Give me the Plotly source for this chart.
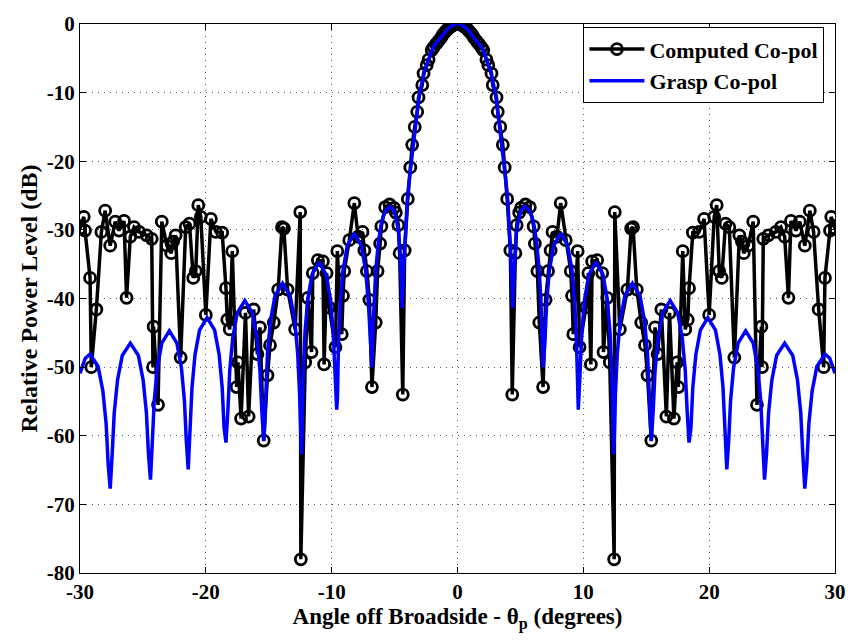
import plotly.graph_objects as go

# ---------------- Computed Co-pol (black, circles) ----------------
theta_comp_left = [-30.0, -29.7, -29.6, -29.2, -29.1, -28.7, -28.3, -28.0, -27.6, -27.2, -26.9, -26.5, -26.3, -26.0,
                   -25.7, -25.3, -24.7, -24.3, -24.2, -24.15, -23.8, -23.5, -23.1, -22.75, -22.6, -22.4, -22.0,
                   -21.6, -21.3, -21.0, -20.8, -20.6, -20.4, -20.0, -19.6, -19.2, -18.7, -18.4, -18.3, -18.1,
                   -17.9, -17.55, -17.45, -17.2, -16.85, -16.6, -16.2, -15.9, -15.7, -15.4, -15.1, -14.9, -14.6,
                   -14.25, -13.95, -13.8, -13.5, -12.9, -12.5, -12.45, -12.1, -11.9, -11.6, -11.5, -11.1, -10.7,
                   -10.6, -10.4, -10.2, -9.7, -9.55, -9.2, -9.1, -9.0, -8.6, -8.2, -7.9, -7.55, -7.4, -7.2, -7.0,
                   -6.8, -6.5, -6.35, -6.15, -6.05, -5.75, -5.4, -5.05, -4.9, -4.7, -4.6, -4.35, -4.2, -3.95,
                   -3.75, -3.6, -3.4, -3.2, -3.1, -2.8, -2.7, -2.45, -2.3, -2.05, -1.9, -1.7, -1.5, -1.3, -1.15,
                   -1.0, -0.85, -0.7, -0.55, -0.4, -0.25, -0.1]
level_comp_left = [-29.8, -28.1, -30.1, -37.0, -50.0, -41.6, -30.3, -27.2, -32.3, -28.8, -30.1, -28.7, -39.9, -31.0,
                   -29.6, -30.3, -30.8, -31.3, -50.0, -44.1, -55.5, -28.8, -32.3, -33.4, -31.7, -30.8, -48.6,
                   -29.6, -29.1, -37.0, -36.0, -26.4, -28.1, -42.4, -28.4, -30.3, -30.4, -38.5, -43.1, -44.5,
                   -33.1, -52.9, -49.3, -57.5, -42.1, -57.2, -41.6, -48.1, -44.2, -60.7, -51.2, -46.8, -43.5,
                   -38.7, -29.6, -29.8, -38.7, -44.5, -27.4, -78.0, -49.3, -39.9, -47.8, -36.3, -34.4, -34.6,
                   -49.6, -36.3, -41.3, -47.1, -33.1, -45.2, -39.6, -36.0, -31.5, -26.1, -31.0, -30.3, -33.0, -36.0,
                   -40.2, -52.9, -43.5, -36.0, -32.0, -29.5, -26.7, -26.3, -26.8, -27.5, -29.3, -33.4, -54.0, -33.0,
                   -25.5, -20.9, -17.6, -15.0, -12.8, -10.7, -8.9, -7.2, -6.0, -5.2, -3.8, -3.4, -2.9, -2.45, -2.0,
                   -1.5, -1.2, -0.9, -0.6, -0.4, -0.2, -0.08, -0.02]
theta_comp_right = [0.0, 0.1, 0.25, 0.4, 0.55, 0.7, 0.85, 1.0, 1.15, 1.3, 1.5, 1.7, 1.9, 2.05, 2.3, 2.45, 2.7, 2.8,
                    3.1, 3.2, 3.4,
                    3.6, 3.75, 3.95, 4.2, 4.35, 4.6, 4.7, 4.9, 5.05, 5.4, 5.75, 6.05, 6.15, 6.35, 6.5, 6.8, 7.0,
                    7.2, 7.4, 7.55, 7.9, 8.2, 8.6, 9.0, 9.1, 9.2, 9.55, 9.7, 10.2, 10.4, 10.6, 10.7, 11.1, 11.5,
                    11.6, 11.9, 12.1, 12.45, 12.5, 12.9, 13.5, 13.8, 13.95, 14.25, 14.6, 14.9, 15.1, 15.4, 15.7,
                    15.9, 16.2, 16.6, 16.85, 17.2, 17.45, 17.55, 17.9, 18.1, 18.3, 18.4, 18.7, 19.2, 19.6, 20.0,
                    20.4, 20.6, 20.8, 21.0, 21.3, 21.6, 22.0, 22.4, 22.6, 22.75, 23.1, 23.5, 23.8, 24.15, 24.2,
                    24.3, 24.7, 25.3, 25.7, 26.0, 26.3, 26.5, 26.9, 27.2, 27.6, 28.0, 28.3, 28.7, 29.1, 29.2, 29.6,
                    29.7, 30.0]
level_comp_right = [0.0, -0.02, -0.08, -0.2, -0.4, -0.6, -0.9, -1.2, -1.5, -2.0, -2.45, -2.9, -3.4, -3.8, -5.2,
                    -6.0, -7.2, -8.9,
                    -10.7, -12.8, -15.0, -17.6, -20.9, -25.5, -33.0, -54.0, -33.4, -29.3, -27.5, -26.8, -26.3,
                    -26.7, -29.5, -32.0, -36.0, -43.5, -52.9, -40.2, -36.0, -33.0, -30.3, -31.0, -26.1, -31.5,
                    -36.0, -39.6, -45.2, -33.1, -47.1, -41.3, -36.3, -49.6, -34.6, -34.4, -36.3, -47.8, -39.9,
                    -49.3, -78.0, -27.4, -44.5, -38.7, -29.8, -29.6, -38.7, -43.5, -46.8, -51.2, -60.7, -44.2,
                    -48.1, -41.6, -57.2, -42.1, -57.5, -49.3, -52.9, -33.1, -44.5, -43.1, -38.5, -30.4, -30.3,
                    -28.4, -42.4, -28.1, -26.4, -36.0, -37.0, -29.1, -29.6, -48.6, -30.8, -31.7, -33.4, -32.3,
                    -28.8, -55.5, -44.1, -50.0, -31.3, -30.8, -30.3, -29.6, -31.0, -39.9, -28.7, -30.1, -28.8,
                    -32.3, -27.2, -30.3, -41.6, -50.0, -37.0, -30.1, -28.1, -29.8]

# ---------------- Grasp Co-pol (blue line) ----------------
theta_grasp_left = [-30.0, -29.58, -29.2, -28.56, -28.18, -27.92, -27.76, -27.6, -27.44, -27.28, -27.02, -26.64,
                    -26.0, -25.36, -24.98, -24.72, -24.56, -24.4, -24.25, -24.1, -23.86, -23.5, -22.9, -22.3,
                    -21.94, -21.7, -21.55, -21.4, -21.25, -21.1, -20.86, -20.5, -19.9, -19.3, -18.94, -18.7,
                    -18.55, -18.4, -18.25, -18.1, -17.86, -17.5, -16.9, -16.3, -15.94, -15.7, -15.55, -15.4,
                    -15.34, -15.25, -15.1, -14.86, -14.5, -13.9, -13.3, -12.94, -12.7, -12.55, -12.46, -12.4,
                    -12.34, -12.26, -12.12, -11.90, -11.56, -11.0, -10.44, -10.10, -9.88, -9.74, -9.6, -9.54,
                    -9.46, -9.32, -9.10, -8.76, -8.2, -7.64, -7.30, -7.08, -6.94, -6.8, -6.72, -6.62, -6.5, -6.3,
                    -6.1, -5.9, -5.65, -5.35, -5.05, -4.85, -4.68, -4.55, -4.47, -4.4, -4.3, -4.2, -4.1, -4.0,
                    -3.85, -3.7, -3.55, -3.35, -3.2, -3.0, -2.8, -2.6, -2.4, -2.2, -2.0, -1.8, -1.5, -1.2, -0.9,
                    -0.6, -0.3]
level_grasp_left = [-50.9, -48.7, -48.1, -49.9, -53.5, -58.3, -64.2, -67.7, -62.6, -56.7, -51.9, -48.3, -46.5,
                    -48.3, -51.9, -56.7, -62.6, -66.4, -60.8, -54.9, -50.1, -46.5, -44.7, -46.5, -50.1, -54.9,
                    -60.8, -64.9, -58.9, -53.0, -48.2, -44.6, -42.8, -44.6, -48.2, -53.0, -58.9, -61.0, -56.4,
                    -50.5, -45.7, -42.1, -40.3, -42.1, -45.7, -50.5, -56.4, -60.8, -59.0, -53.9, -48.0, -43.2,
                    -39.6, -37.8, -39.6, -43.2, -48.0, -53.9, -60.5, -62.7, -58.7, -50.8, -44.9, -40.1, -36.5,
                    -34.7, -36.5, -40.1, -44.9, -50.8, -56.2, -54.5, -46.6, -40.7, -35.9, -32.3, -30.5, -32.3,
                    -35.9, -40.7, -46.6, -50.0, -44.5, -40.0, -36.0, -32.0, -29.5, -28.0, -27.0, -26.6, -27.2,
                    -28.5, -30.5, -33.5, -37.0, -41.4, -36.5, -32.5, -28.5, -25.8, -23.0, -20.5, -17.6, -15.0,
                    -12.8, -10.0, -8.3, -6.8, -5.7, -4.6, -3.65, -3.0, -2.4, -1.7, -1.0, -0.45, -0.1]
theta_grasp_right = [0.0, 0.3, 0.6, 0.9, 1.2, 1.5, 1.8, 2.0, 2.2, 2.4, 2.6, 2.8, 3.0, 3.2, 3.35, 3.55, 3.7, 3.85,
                     4.0, 4.1, 4.2, 4.3, 4.4, 4.47, 4.55, 4.68, 4.85, 5.05, 5.35, 5.65, 5.9, 6.1, 6.3, 6.5, 6.62,
                     6.72, 6.8, 6.94, 7.08, 7.30, 7.64, 8.2, 8.76, 9.10, 9.32, 9.46, 9.54, 9.6, 9.74, 9.88, 10.10,
                     10.44, 11.0, 11.56, 11.90, 12.12, 12.26, 12.34, 12.4, 12.46, 12.55, 12.7, 12.94, 13.3, 13.9,
                     14.5, 14.86, 15.1, 15.25, 15.34, 15.4, 15.55, 15.7, 15.94, 16.3, 16.9, 17.5, 17.86, 18.1,
                     18.25, 18.4, 18.55, 18.7, 18.94, 19.3, 19.9, 20.5, 20.86, 21.1, 21.25, 21.4, 21.55, 21.7,
                     21.94, 22.3, 22.9, 23.5, 23.86, 24.1, 24.25, 24.4, 24.56, 24.72, 24.98, 25.36, 26.0, 26.64,
                     27.02, 27.28, 27.44, 27.6, 27.76, 27.92, 28.18, 28.56, 29.2, 29.58, 30.0]
level_grasp_right = [0.0, -0.1, -0.45, -1.0, -1.7, -2.4, -3.0, -3.65, -4.6, -5.7, -6.8, -8.3, -10.0, -12.8, -15.0,
                     -17.6, -20.5, -23.0, -25.8, -28.5, -32.5, -36.5, -41.4, -37.0, -33.5, -30.5, -28.5, -27.2,
                     -26.6, -27.0, -28.0, -29.5, -32.0, -36.0, -40.0, -44.5, -50.0, -46.6, -40.7, -35.9, -32.3,
                     -30.5, -32.3, -35.9, -40.7, -46.6, -54.5, -56.2, -50.8, -44.9, -40.1, -36.5, -34.7, -36.5,
                     -40.1, -44.9, -50.8, -58.7, -62.7, -60.5, -53.9, -48.0, -43.2, -39.6, -37.8, -39.6, -43.2,
                     -48.0, -53.9, -59.0, -60.8, -56.4, -50.5, -45.7, -42.1, -40.3, -42.1, -45.7, -50.5, -56.4,
                     -61.0, -58.9, -53.0, -48.2, -44.6, -42.8, -44.6, -48.2, -53.0, -58.9, -64.9, -60.8, -54.9,
                     -50.1, -46.5, -44.7, -46.5, -50.1, -54.9, -60.8, -66.4, -62.6, -56.7, -51.9, -48.3, -46.5,
                     -48.3, -51.9, -56.7, -62.6, -67.7, -64.2, -58.3, -53.5, -49.9, -48.1, -48.7, -50.9]

x_ticks = [-30, -20, -10, 0, 10, 20, 30]
y_ticks = [-80, -70, -60, -50, -40, -30, -20, -10, 0]

theta_comp = theta_comp_left + theta_comp_right
level_comp = level_comp_left + level_comp_right
theta_grasp = theta_grasp_left + theta_grasp_right
level_grasp = level_grasp_left + level_grasp_right

FONT = "Liberation Serif"
TICK_FONT = dict(family=FONT, size=21, color="black", weight="bold")

fig = go.Figure()
fig.add_trace(go.Scatter(
    x=theta_comp, y=level_comp, mode="lines+markers", name="Computed Co-pol",
    line=dict(color="black", width=3.5),
    marker=dict(symbol="circle-open", size=11, color="black", line=dict(width=2.8, color="black")),
))
fig.add_trace(go.Scatter(
    x=theta_grasp, y=level_grasp, mode="lines", name="Grasp Co-pol",
    line=dict(color="rgb(0,0,255)", width=3.5),
))

axis_common = dict(
    showline=True, linecolor="black", linewidth=1, mirror="ticks",
    ticks="inside", ticklen=6, tickcolor="black",
    showgrid=True, gridcolor="rgb(90,90,90)", griddash="1px,5px", gridwidth=1,
    zeroline=False,
    tickfont=TICK_FONT,
)

fig.update_xaxes(range=[-30, 30], tickvals=x_ticks, ticktext=[str(v) for v in x_ticks],
                 title=dict(text="Angle off Broadside - θ<sub>p</sub> (degrees)",
                            font=dict(family=FONT, size=23, color="black", weight="bold"), standoff=1),
                 **axis_common)
fig.update_yaxes(range=[-80, 0], tickvals=y_ticks, ticktext=[str(v) for v in y_ticks],
                 title=dict(text="Relative Power Level (dB)",
                            font=dict(family=FONT, size=24, color="black", weight="bold"), standoff=2),
                 **axis_common)

fig.update_layout(
    width=858, height=643,
    margin=dict(l=80, r=16, t=18, b=70),
    paper_bgcolor="white", plot_bgcolor="white",
    showlegend=True,
    legend=dict(x=0.986, y=0.994, xanchor="right", yanchor="top",
                bgcolor="white", bordercolor="black", borderwidth=1,
                font=dict(family=FONT, size=22, color="black", weight="bold"),
                tracegroupgap=0, itemwidth=55),
)

fig.write_html("out.html")
